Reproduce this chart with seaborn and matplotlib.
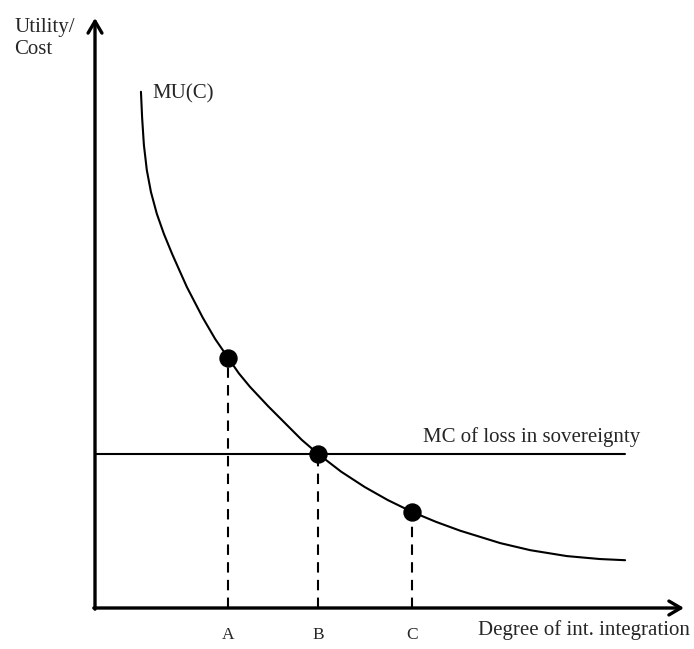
import matplotlib
matplotlib.use('Agg')
import seaborn as sns
import pandas as pd
import matplotlib.pyplot as plt

# MU(C) curve
mu_x = [0.78, 0.80, 0.83, 0.88, 0.95, 1.05, 1.17, 1.31, 1.43, 1.56, 1.70, 1.83,
        2.04, 2.26, 2.44, 2.63, 2.94, 3.24, 3.51, 3.79, 4.18, 4.58, 4.97, 5.38,
        5.79, 6.20, 6.88, 7.39, 8.01, 8.57, 9.00]
mu_y = [8.75, 8.31, 7.85, 7.42, 7.05, 6.68, 6.34, 6.00, 5.73, 5.44, 5.17, 4.92,
        4.56, 4.24, 3.98, 3.75, 3.42, 3.12, 2.85, 2.61, 2.31, 2.05, 1.83, 1.63,
        1.46, 1.31, 1.10, 0.98, 0.88, 0.83, 0.81]

# MC of loss in sovereignty (flat)
mc_x = [0.0, 9.0]
mc_y = [2.61, 2.61]

# marked points
pt_labels = ["A", "B", "C"]
pt_x = [2.26, 3.79, 5.38]
pt_y = [4.24, 2.61, 1.63]

curve = pd.DataFrame({"x": mu_x, "y": mu_y})
mc = pd.DataFrame({"x": mc_x, "y": mc_y})
pts = pd.DataFrame({"x": pt_x, "y": pt_y, "label": pt_labels})

sns.set_style("white")
plt.rcParams['font.family'] = ['Liberation Serif', 'DejaVu Serif']

fig = plt.figure(figsize=(6.94, 6.49), dpi=100)
ax = fig.add_axes([95 / 694, 41 / 649, 589 / 694, 590 / 649])
ax.set_xlim(0, 10)
ax.set_ylim(0, 10)

sns.lineplot(data=curve, x="x", y="y", sort=False, color="black", lw=1.5,
             solid_joinstyle="round", ax=ax)
sns.lineplot(data=mc, x="x", y="y", color="black", lw=1.5, ax=ax)
for xv, yv in zip(pt_x, pt_y):
    ax.plot([xv, xv], [0, yv], color="black", lw=1.5, dashes=(5, 3.5))
sns.scatterplot(data=pts, x="x", y="y", color="black", s=150, edgecolor="black",
                zorder=5, ax=ax)

# axes with arrow heads
for spine in ax.spines.values():
    spine.set_visible(False)
arrow = dict(arrowstyle="->, head_length=0.85, head_width=0.5", lw=2.4,
             color="black", shrinkA=0, shrinkB=0)
ax.annotate("", xy=(0, 1), xytext=(0, -0.002), xycoords="axes fraction",
            arrowprops=arrow)
ax.annotate("", xy=(1, 0), xytext=(-0.002, 0), xycoords="axes fraction",
            arrowprops=arrow)

ax.set_xticks(pt_x, pt_labels, fontsize=12.5)
ax.tick_params(axis="x", length=0, pad=14)
ax.set_yticks([])
ax.set_xlabel("")
ax.set_ylabel("")

ax.text(-0.1375, 1.0, "Utility/\nCost", transform=ax.transAxes, fontsize=15,
        ha="left", va="top", linespacing=1.2)
ax.text(0.98, 8.72, "MU(C)", fontsize=15, ha="left", va="center")
ax.text(9.25, 2.90, "MC of loss in sovereignty", fontsize=15, ha="right", va="center")
ax.text(10.1, -0.37, "Degree of int. integration", fontsize=15, ha="right", va="center")

plt.savefig("out.png", dpi=100)
